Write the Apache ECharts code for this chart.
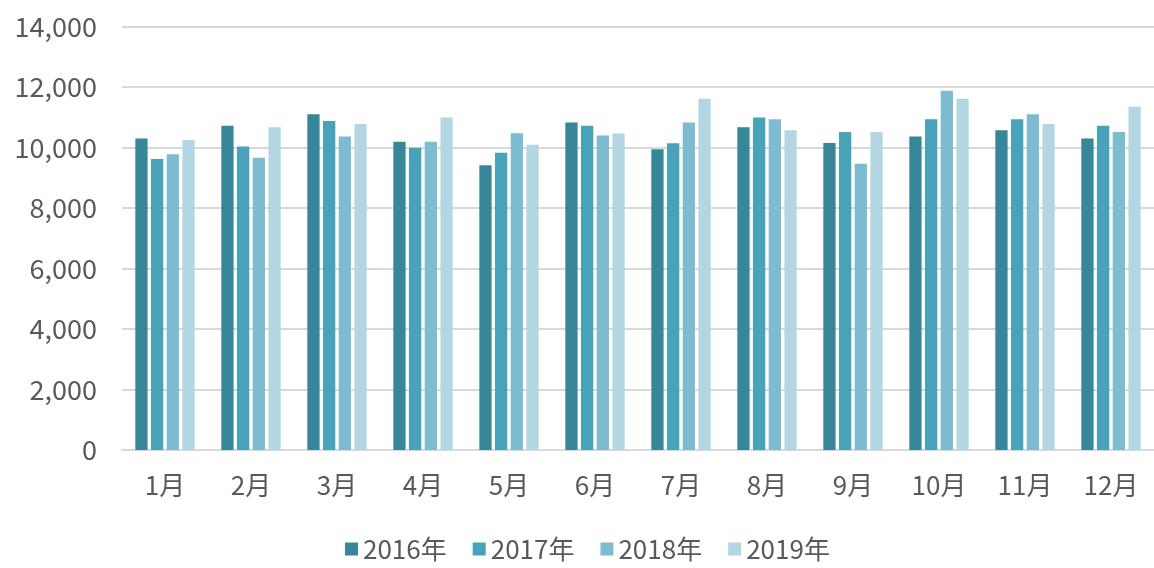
<!DOCTYPE html>
<html>
<head>
<meta charset="utf-8">
<script src="https://cdn.jsdelivr.net/npm/echarts@6/dist/echarts.min.js"></script>
<style>
  html, body { margin: 0; padding: 0; background: #fff; }
  #chart { width: 1154px; height: 568px; }
</style>
</head>
<body>
<div id="chart"></div>
<script>
// Monthly values per year
const months = ['1月', '2月', '3月', '4月', '5月', '6月', '7月', '8月', '9月', '10月', '11月', '12月'];
const yearNames = ['2016年', '2017年', '2018年', '2019年'];
const y2016 = [10300, 10720, 11100, 10190, 9410, 10830, 9940, 10670, 10150, 10360, 10570, 10300];
const y2017 = [9620, 10030, 10880, 9990, 9830, 10720, 10140, 10990, 10510, 10930, 10930, 10720];
const y2018 = [9780, 9660, 10360, 10190, 10470, 10400, 10830, 10930, 9460, 11880, 11100, 10510];
const y2019 = [10250, 10670, 10780, 10990, 10090, 10460, 11610, 10570, 10510, 11610, 10780, 11350];
const yTicks = { min: 0, max: 14000, interval: 2000 };

const colors = ['#37869a', '#47a2ba', '#7dbbd1', '#b4d6e2'];
const seriesData = [y2016, y2017, y2018, y2019];
const font = '"Noto Sans CJK JP", "Noto Sans", sans-serif';

const chart = echarts.init(document.getElementById('chart'));
chart.setOption({
  animation: false,
  color: colors,
  textStyle: { fontFamily: font },
  grid: { left: 122, top: 26.5, width: 1039, height: 423.5, containLabel: false },
  legend: {
    data: yearNames,
    bottom: 1,
    left: 340,
    itemWidth: 13,
    itemHeight: 13,
    itemGap: 26,
    icon: 'rect',
    textStyle: { fontSize: 26, color: '#595959', fontFamily: font }
  },
  xAxis: {
    type: 'category',
    data: months,
    axisLine: { lineStyle: { color: '#d9d9d9', width: 2 } },
    axisTick: { show: false },
    axisLabel: { fontSize: 26, color: '#595959', margin: 22, fontFamily: font }
  },
  yAxis: {
    type: 'value',
    min: yTicks.min,
    max: yTicks.max,
    interval: yTicks.interval,
    axisLine: { show: false },
    axisTick: { show: false },
    splitLine: { lineStyle: { color: '#d9d9d9', width: 2 } },
    axisLabel: {
      fontSize: 27, color: '#595959', margin: 25, fontFamily: font,
      formatter: v => v.toLocaleString('en-US')
    }
  },
  series: yearNames.map((name, i) => ({
    name,
    type: 'bar',
    data: seriesData[i],
    barGap: '28%',
    barCategoryGap: '31%',
    itemStyle: { color: colors[i] }
  }))
});
</script>
</body>
</html>
